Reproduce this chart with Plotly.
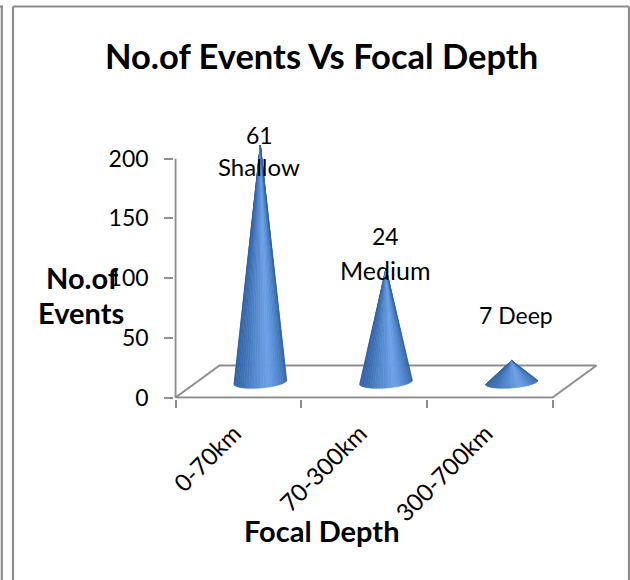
import math
import plotly.graph_objects as go

# Chart data
depth_ranges = ["0-70km", "70-300km", "300-700km"]
event_counts = [198, 95, 18]
label_counts = ["61", "24", "7"]
depth_classes = ["Shallow", "Medium", "Deep"]
y_ticks = [0, 50, 100, 150, 200]

W, H = 630, 580
ZERO_X, UNIT3_X, Y200, ZERO_Y = 175.5, 552.5, 158.5, 397.5
FONT = "Lato"
AXIS_GRAY = "#8e8e8e"
TEXT = "#000000"

x_unit = (UNIT3_X - ZERO_X) / 3
y_unit = (ZERO_Y - Y200) / 200

# Axis ranges run past the labelled scale so the pseudo-3D floor and the
# tallest cone stay inside the drawing area
X_RANGE = [-0.01, 3.42]
Y_RANGE = [-1.0, 216.0]
PLOT_L = ZERO_X + X_RANGE[0] * x_unit
PLOT_R = ZERO_X + X_RANGE[1] * x_unit
PLOT_B = ZERO_Y - Y_RANGE[0] * y_unit
PLOT_T = ZERO_Y - Y_RANGE[1] * y_unit

# Pseudo-3D floor offset, expressed in axis units
DEPTH_X = 44 / x_unit
DEPTH_Y = 32 / y_unit


def paper_x(px):
    return px / W


def paper_y(py):
    return 1 - py / H


def shade(t):
    """Cone surface colour for t in 0..1 running left to right across the base."""
    stops = [
        (0.00, (46, 92, 152)),
        (0.25, (58, 110, 178)),
        (0.60, (108, 162, 232)),
        (0.80, (70, 125, 196)),
        (1.00, (50, 94, 150)),
    ]
    for (a, ca), (b, cb) in zip(stops, stops[1:]):
        if t <= b:
            f = (t - a) / (b - a)
            r, g, bl = [round(u + (v - u) * f) for u, v in zip(ca, cb)]
            return f"rgb({r},{g},{bl})"
    return "rgb(50,94,150)"


fig = go.Figure()

# Floor outline and value axis line
fig.add_trace(go.Scatter(
    x=[0, 0, DEPTH_X, 3 + DEPTH_X, 3, 0],
    y=[200, 0, DEPTH_Y, DEPTH_Y, 0, 0],
    mode="lines",
    line=dict(color=AXIS_GRAY, width=2),
    hoverinfo="skip",
    showlegend=False,
))

# Cones, each built from narrow wedges so the shading converges at the tip
BASE_RX = 26.5 / x_unit
BASE_RY = 6.0 / y_unit
BASE_TILT = 2.0 / y_unit
BASE_Y = 15.5 / y_unit
SLICES = 28

for i, value in enumerate(event_counts):
    cx = i + 0.5 + DEPTH_X / 2
    tip = BASE_Y + value
    for s in range(SLICES):
        t0 = s / SLICES
        t1 = (s + 1) / SLICES
        xs, ys = [cx], [tip]
        for t in (t0, t1):
            angle = math.pi * t
            xs.append(cx - BASE_RX * math.cos(angle))
            ys.append(BASE_Y - BASE_RY * math.sin(angle) - BASE_TILT * math.cos(angle))
        color = shade((t0 + t1) / 2)
        fig.add_trace(go.Scatter(
            x=xs + [cx], y=ys + [tip],
            mode="lines",
            fill="toself",
            fillcolor=color,
            line=dict(color=color, width=0.6),
            hoverinfo="skip",
            showlegend=False,
        ))

annotations = []


def text_at(text, px, py, size, bold=False, angle=0):
    annotations.append(dict(
        text=f"<b>{text}</b>" if bold else text,
        x=paper_x(px), y=paper_y(py),
        xref="paper", yref="paper",
        xanchor="center", yanchor="middle",
        showarrow=False,
        textangle=angle,
        font=dict(family=FONT, size=size, color=TEXT),
    ))


# Data labels above each cone
text_at(label_counts[0], 259, 135, 23)
text_at(depth_classes[0], 259, 167, 24)
text_at(label_counts[1], 385, 236, 23)
text_at(depth_classes[1], 385, 270, 25)
text_at(f"{label_counts[2]} {depth_classes[2]}", 516, 315, 23)

# Titles
text_at("No.of Events Vs Focal Depth", 321, 56, 34.5, bold=True)
text_at("No.of", 82, 277, 29, bold=True)
text_at("Events", 81, 312, 29, bold=True)
text_at("Focal Depth", 321, 530, 29, bold=True)

# Outer page rules framing the chart
frame = [
    (0, 6.5, 3, 6.5),
    (13, 6.5, 629, 6.5),
    (1.8, 6.5, 1.8, 580),
    (13, 6.5, 13, 580),
    (629, 6.5, 629, 580),
]
shapes = [
    dict(type="line", xref="paper", yref="paper",
         x0=paper_x(a), y0=paper_y(b), x1=paper_x(c), y1=paper_y(d),
         line=dict(color="#8c8c8c", width=2.2))
    for a, b, c, d in frame
]

fig.update_layout(
    width=W, height=H,
    margin=dict(l=0, r=0, t=0, b=0),
    paper_bgcolor="white",
    plot_bgcolor="white",
    showlegend=False,
    annotations=annotations,
    shapes=shapes,
    xaxis=dict(
        domain=[paper_x(PLOT_L), paper_x(PLOT_R)],
        range=X_RANGE,
        automargin=False,
        tickmode="array",
        tickvals=[0.5, 1.5, 2.5],
        ticktext=depth_ranges,
        tickangle=-45,
        ticks="",
        tickfont=dict(family=FONT, size=24, color=TEXT),
        ticklabelstandoff=15,
        ticklabelshift=-4,
        minor=dict(tickmode="array", tickvals=[0, 1, 2, 3], ticks="outside",
                   ticklen=8, tickwidth=2, tickcolor=AXIS_GRAY, showgrid=False),
        showline=False,
        showgrid=False, zeroline=False,
    ),
    yaxis=dict(
        domain=[paper_y(PLOT_B), paper_y(PLOT_T)],
        range=Y_RANGE,
        automargin=False,
        tickmode="array",
        tickvals=y_ticks,
        ticks="outside",
        ticklen=9, tickwidth=2, tickcolor=AXIS_GRAY,
        tickfont=dict(family=FONT, size=23, color=TEXT),
        ticklabelstandoff=11,
        showline=False,
        showgrid=False, zeroline=False,
    ),
)

fig.write_html("out.html", config=dict(displayModeBar=False))
